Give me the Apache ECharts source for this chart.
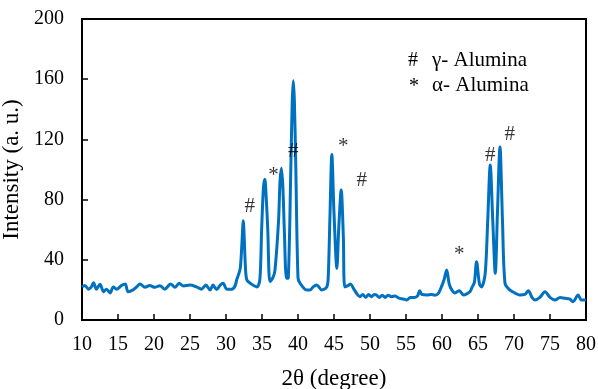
<!DOCTYPE html>
<html>
<head>
<meta charset="utf-8">
<script src="https://cdn.jsdelivr.net/npm/echarts@6/dist/echarts.min.js"></script>
<style>
html,body{margin:0;padding:0;background:#fff;}
#chart{width:598px;height:389px;}
</style>
</head>
<body>
<div id="chart"></div>
<script>
// 2θ positions (degree)
var twoTheta = [
  10.0,10.4,10.9,11.3,11.6,12.0,12.5,13.0,13.4,13.9,14.35,14.8,15.5,16.0,16.4,17.1,17.6,18.05,18.75,19.4,
  20.1,20.8,21.5,22.3,22.9,23.5,24.1,25.0,25.9,26.6,27.2,27.8,28.2,28.7,29.2,29.6,30.1,30.8,31.25,31.5,
  31.8,32.0,32.2,32.4,32.55,32.7,32.9,33.5,34.3,34.7,34.95,35.2,35.4,35.6,35.8,36.1,36.5,36.8,37.3,37.5,
  37.7,37.9,38.1,38.4,38.65,39.0,39.2,39.35,39.5,39.7,40.0,40.3,41.2,41.7,42.1,42.6,43.3,44.0,44.2,44.45,
  44.7,45.0,45.4,45.65,46.0,46.3,46.5,47.0,47.3,47.7,48.2,48.6,49.0,49.4,49.8,50.2,50.6,50.9,51.3,51.7,
  52.1,52.5,53.0,53.5,54.0,54.6,55.1,55.6,56.2,56.6,56.9,57.2,57.9,58.5,59.0,59.5,60.0,60.3,60.65,61.0,
  61.35,61.8,62.4,63.0,63.5,63.9,64.2,64.5,64.8,65.2,65.5,66.0,66.35,66.7,67.05,67.4,67.7,68.05,68.4,68.75,
  69.4,70.1,70.8,71.5,72.0,72.5,72.9,73.6,74.3,75.0,75.7,76.4,77.1,77.7,78.2,78.9,79.3,79.6,80.0
];
// Intensity (a. u.)
var intensity = [
  22,23,20.5,22,24.8,20.5,23.8,18.8,20.5,18,22,20.5,23,24,18.8,20,22,24,21.7,23,
  21.7,22.8,20.5,24,21.7,24.4,22.6,23.2,22,20.5,23.2,19.9,23.2,20.3,23.2,24.4,20.5,20.5,22.6,27,
  31,35,50,66,52,35,26.6,24,22,26.6,60,88,93.5,80,60,25.5,28,33,66,92,
  100.8,88,60,27.7,28,100,145,159,145,100,28,24.4,20,20,22,23.3,20,22,28.8,71,
  110,71,34.3,60,86.4,55,22,23,24,21,17.3,15.5,17,15,17,15.5,17,16.6,15,16.5,
  15,16.5,15.5,16,14.5,14,13.3,15,15,16,19.5,17,16.6,17,16.5,17.7,23,27,33.2,24,
  20,18,19.5,16.6,17.5,18.8,22,25,38.7,24,22,31,66,103,66,31,71,115,66,24.4,
  20,18,16.6,17,19.5,15,13.3,15,18.8,15,13.3,15,14.4,14,12.2,16.6,13.5,13.3,13.5
];
// peak annotations
var annTheta = [33.3, 36.6, 39.35, 46.3, 48.85, 62.4, 66.7, 69.4];
var annValue = [75.3, 96.3, 111.8, 115, 92.6, 43.2, 109.6, 123];
var annText  = ['#', '*', '#', '*', '#', '*', '#', '#'];
// axis ticks
var xTicks = [10,15,20,25,30,35,40,45,50,55,60,65,70,75,80];
var yTicks = [0,40,80,120,160,200];

var lineData = twoTheta.map(function(t,i){return [t, intensity[i]];});
var annData = annTheta.map(function(t,i){return {value:[t, annValue[i]], name:annText[i]};});

var font = 'Liberation Serif';
var chart = echarts.init(document.getElementById('chart'), null, {renderer:'canvas'});
chart.setOption({
  animation:false,
  backgroundColor:'#fff',
  grid:{left:82, right:12, top:19, bottom:69, containLabel:false, outerBoundsMode:'none',
        show:true, borderColor:'#000', borderWidth:2, backgroundColor:'transparent'},
  xAxis:{
    type:'value', min:xTicks[0], max:xTicks[xTicks.length-1], interval:5,
    name:'2θ (degree)', nameLocation:'middle', nameGap:47,
    nameTextStyle:{fontFamily:font, fontSize:23, color:'#000'},
    axisLine:{show:true, onZero:false, lineStyle:{color:'#000', width:2}},
    axisTick:{show:true, inside:true, length:6, lineStyle:{color:'#000', width:1.5}},
    axisLabel:{fontFamily:font, fontSize:20, color:'#000', margin:15},
    splitLine:{show:false}
  },
  yAxis:{
    type:'value', min:yTicks[0], max:yTicks[yTicks.length-1], interval:40,
    name:'Intensity (a. u.)', nameLocation:'middle', nameGap:49, nameRotate:90,
    nameTextStyle:{fontFamily:font, fontSize:23, color:'#000'},
    axisLine:{show:true, onZero:false, lineStyle:{color:'#000', width:2}},
    axisTick:{show:true, inside:true, length:6, lineStyle:{color:'#000', width:1.5}},
    axisLabel:{fontFamily:font, fontSize:20, color:'#000', margin:18},
    splitLine:{show:false}
  },
  series:[
    {type:'line', data:lineData, showSymbol:false, symbol:'none', smooth:0.3,
     lineStyle:{color:'#0070C0', width:3}, z:3},
    {type:'scatter', data:annData, symbolSize:1, itemStyle:{color:'rgba(0,0,0,0)'},
     label:{show:true, position:'inside', formatter:function(p){return p.name;},
            fontFamily:font, fontSize:21, color:'#000'}, z:4}
  ],
  graphic:[
    {type:'text', left:408, top:51, style:{text:'#', font:'20px "Liberation Serif"', fill:'#000'}},
    {type:'text', left:432, top:50, style:{text:'γ- Alumina', font:'21px "Liberation Serif"', fill:'#000'}},
    {type:'text', left:409, top:77, style:{text:'*', font:'20px "Liberation Serif"', fill:'#000'}},
    {type:'text', left:432, top:75, style:{text:'α- Alumina', font:'21px "Liberation Serif"', fill:'#000'}}
  ]
});
</script>
</body>
</html>
